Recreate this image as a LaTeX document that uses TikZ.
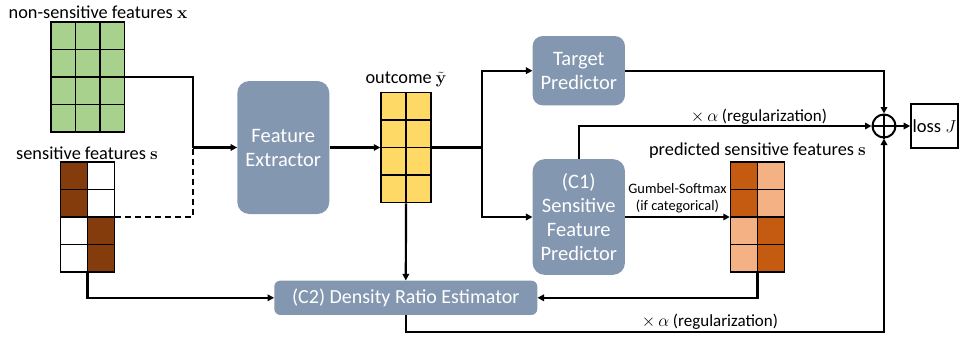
\documentclass[tikz,border=0pt]{standalone}
\usepackage[no-math]{fontspec}
\setmainfont{Carlito}
\usetikzlibrary{arrows.meta}
\definecolor{boxgray}{HTML}{8497B0}
\definecolor{featgreen}{HTML}{A9D18E}
\definecolor{outyellow}{HTML}{FFD966}
\definecolor{sensbrown}{HTML}{843C0C}
\definecolor{preddark}{HTML}{C55A11}
\definecolor{predlight}{HTML}{F4B183}

\begin{document}
\begin{tikzpicture}[x=1pt, y=-1pt,
    conn/.style={line width=2.2pt, -{Triangle[length=6.5pt,width=6.5pt]}},
    plainline/.style={line width=2.2pt},
    module/.style={fill=boxgray, rounded corners=12pt, text=white, align=center,
        inner sep=0pt, font=\fontsize{20.5}{24}\selectfont},
    cell/.style={draw=black, line width=1.5pt},
    gridbox/.style={draw=black, line width=1.5pt, inner sep=0pt},
    txt/.style={font=\fontsize{18.3}{21}\selectfont, inner sep=0pt},
    regtxt/.style={font=\fontsize{17}{20}\selectfont, inner sep=0pt},
    small/.style={font=\fontsize{14.4}{17}\selectfont, inner sep=0pt, align=center}]
        \useasboundingbox (0,0) rectangle (962,341);

        % input grids
        \foreach \c in {0,1,2}
            \foreach \r in {0,...,3}
                \draw[cell, fill=featgreen] (51+\c*24.5, 22+\r*27.5) rectangle ++(24.5, 27.5);
        \node[gridbox, minimum width=73.5pt, minimum height=110pt] (xg) at (87.75, 77) {};
        \node[txt] (xlab) at (98, 12) {non-sensitive features $\mathbf{x}$};

        \foreach \c in {0,1}
            \foreach \r in {0,...,3}
                \draw[cell, fill=white] (60.5+\c*27, 162+\r*27.5) rectangle ++(27, 27.5);
        \foreach \c/\r in {0/0, 0/1, 1/2, 1/3}
            \draw[cell, fill=sensbrown] (60.5+\c*27, 162+\r*27.5) rectangle ++(27, 27.5);
        \node[gridbox, minimum width=54pt, minimum height=110pt] (sg) at (87.5, 217) {};
        \node[txt] (slab) at (87, 153) {sensitive features $\mathbf{s}$};

        % modules
        \node[module, minimum width=92pt, minimum height=133pt] (fe) at (283.3, 147.5) {Feature\\Extractor};
        \node[module, rounded corners=10pt, minimum width=92.3pt, minimum height=69.3pt] (tp) at (578.8, 70.7) {Target\\Predictor};
        \node[module, minimum width=92.3pt, minimum height=115.7pt] (c1) at (578.8, 217) {(C1)\\Sensitive\\Feature\\Predictor};
        \node[module, rounded corners=6pt, minimum width=263pt, minimum height=34.3pt,
            font=\fontsize{20}{24}\selectfont] (dre) at (405.8, 297.8) {(C2) Density Ratio Estimator};

        % outcome grid
        \foreach \c in {0,1}
            \foreach \r in {0,...,3}
                \draw[cell, fill=outyellow] (381+\c*25, 92.5+\r*27.5) rectangle ++(25, 27.5);
        \node[gridbox, minimum width=50pt, minimum height=110pt] (og) at (406, 147.5) {};
        \node[txt, anchor=south] (olab) at (406, 87.5) {outcome $\tilde{\mathbf{y}}$};

        % predicted grid
        \foreach \c in {0,1}
            \foreach \r in {0,...,3}
                \draw[cell, fill=predlight] (730.5+\c*27, 162+\r*27.5) rectangle ++(27, 27.5);
        \foreach \c/\r in {0/0, 0/1, 1/2, 1/3}
            \draw[cell, fill=preddark] (730.5+\c*27, 162+\r*27.5) rectangle ++(27, 27.5);
        \node[gridbox, minimum width=54pt, minimum height=110pt] (pg) at (757.5, 217) {};
        \node[txt] (plab) at (757.5, 151) {predicted sensitive features $\mathbf{s}$};

        % sum and loss
        \node[draw, circle, line width=2pt, minimum size=23pt, inner sep=0pt] (plus) at (884, 126) {};
        \draw[line width=2pt] (plus.north) -- (plus.south);
        \draw[line width=2pt] (plus.west) -- (plus.east);
        \node[draw, line width=1.6pt, minimum width=47pt, minimum height=44pt, inner sep=0pt,
            font=\fontsize{18.5}{20}\selectfont] (loss) at (934.5, 126) {loss $J$};

        % connectors
        \coordinate (jn) at (193, 147.5);
        \draw[plainline] (xg.east) -| (jn);
        \draw[plainline, dash pattern=on 6pt off 4pt] (sg.east) -| (jn);
        \draw[conn] (jn) -- (fe.west);
        \draw[conn] (sg.south) |- (dre.west);
        \draw[conn] (fe.east) -- (og.west);
        \coordinate (br) at (482, 147.5);
        \draw[plainline] (og.east) -- (br);
        \draw[conn] (br) |- (tp.west);
        \draw[conn] (br) |- (c1.west);
        \draw[conn] (og.south) -- (dre.north);
        \draw[conn] (tp.east) -| (plus.north);
        \draw[conn] (c1.north) |- (plus.west);
        \node[regtxt] (reg1) at (759, 116.5) {$\times\,\alpha$ (regularization)};
        \draw[conn] (c1.east) -- (pg.west) node[small, midway, above=3pt] {Gumbel-Softmax\\(if categorical)};
        \draw[conn] (pg.south) |- (dre.east);
        \draw[conn] (dre.south) -- ++(0, 16.7) -| (plus.south);
        \node[regtxt] (reg2) at (710, 322) {$\times\,\alpha$ (regularization)};
        \draw[conn] (plus.east) -- (loss.west);
\end{tikzpicture}
\end{document}
